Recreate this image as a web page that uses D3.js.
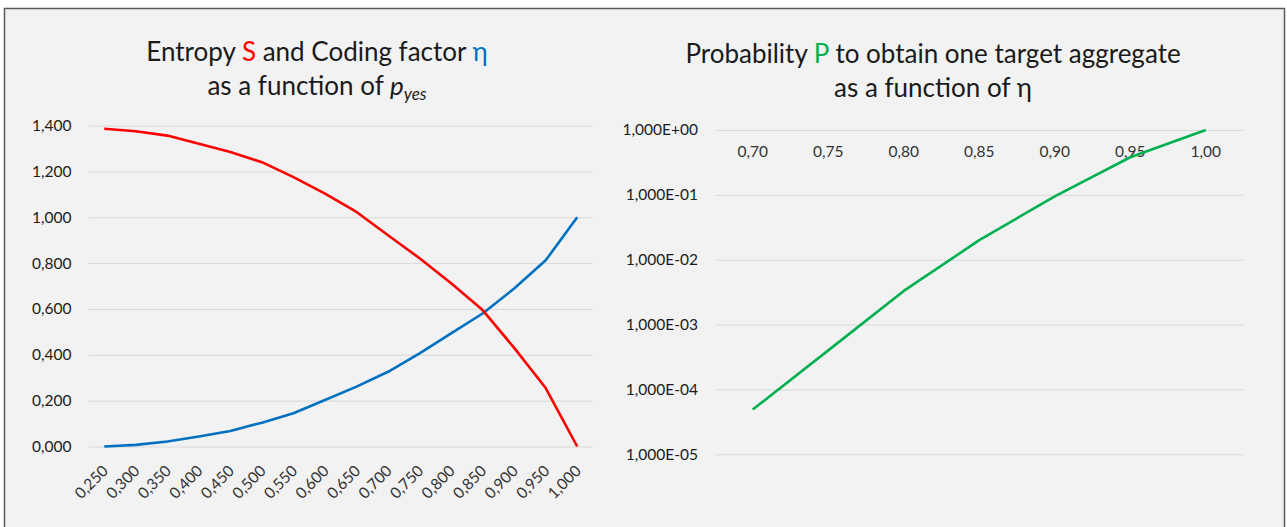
<!DOCTYPE html>
<html>
<head>
<meta charset="utf-8">
<script src="https://cdn.jsdelivr.net/npm/d3@7"></script>
<style>
  body { margin: 0; background: #ffffff; }
  svg text { font-family: Lato, "Open Sans", sans-serif; }
</style>
</head>
<body>
<div id="chart-container"></div>
<script>
const width = 1287;
const height = 527;

// left chart data: entropy S and coding factor eta against p_yes
const pYes = ["0,250", "0,300", "0,350", "0,400", "0,450", "0,500", "0,550", "0,600",
              "0,650", "0,700", "0,750", "0,800", "0,850", "0,900", "0,950", "1,000"];
const entropyS = [1.386, 1.375, 1.356, 1.320, 1.284, 1.240, 1.175, 1.103,
                  1.023, 0.921, 0.821, 0.712, 0.595, 0.430, 0.255, 0.000];
const codingEta = [0.000, 0.007, 0.022, 0.044, 0.068, 0.104, 0.145, 0.203,
                   0.261, 0.326, 0.406, 0.493, 0.580, 0.689, 0.812, 1.000];
const leftTicks = [0, 0.2, 0.4, 0.6, 0.8, 1.0, 1.2, 1.4];

// right chart data: probability P against eta
const etaLabels = ["0,70", "0,75", "0,80", "0,85", "0,90", "0,95", "1,00"];
const probP = [4.9e-5, 4.0e-4, 3.3e-3, 2.0e-2, 9.5e-2, 3.8e-1, 1.0];
const rightTicks = [1, 1e-1, 1e-2, 1e-3, 1e-4, 1e-5];

const tickFont = "15.5px";
const titleFont = "26px";

const svg = d3.select("#chart-container")
    .append("svg")
    .attr("width", width)
    .attr("height", height);

// chart area frame
svg.append("rect")
    .attr("x", 4.5).attr("y", 8.5)
    .attr("width", 1280).attr("height", 540)
    .attr("fill", "#f2f2f2")
    .attr("stroke", "#595959")
    .attr("stroke-width", 1.5);

// ---------- left chart ----------
const xL = d3.scaleBand().domain(pYes).range([88.5, 593]);
const yL = d3.scaleLinear().domain([0, 1.4]).range([446.5, 125.5]);
const cxL = d => xL(d) + xL.bandwidth() / 2;

const gyL = svg.append("g")
    .attr("transform", "translate(88.5,0)")
    .call(d3.axisLeft(yL).tickValues(leftTicks)
        .tickSize(-(593 - 88.5)).tickPadding(17)
        .tickFormat(d => d3.format(".3f")(d).replace(".", ",")));
gyL.select(".domain").remove();
gyL.selectAll(".tick line").attr("stroke", "#d9d9d9");
gyL.selectAll(".tick text").attr("fill", "#1a1a1a").style("font-size", tickFont);

svg.append("g").selectAll("text")
    .data(pYes)
    .join("text")
    .attr("transform", d => `translate(${cxL(d) + 1},${468}) rotate(-45)`)
    .attr("text-anchor", "end")
    .attr("dy", "0.35em")
    .attr("fill", "#333333")
    .style("font-size", tickFont)
    .text(d => d);

const lineL = d3.line().x(d => cxL(d[0])).y(d => yL(d[1]));
svg.append("path")
    .datum(pYes.map((p, i) => [p, codingEta[i]]))
    .attr("d", lineL).attr("fill", "none")
    .attr("stroke", "#0070c0").attr("stroke-width", 2.6).attr("stroke-linejoin", "round");
svg.append("path")
    .datum(pYes.map((p, i) => [p, entropyS[i]]))
    .attr("d", lineL).attr("fill", "none")
    .attr("stroke", "#ff0000").attr("stroke-width", 2.6).attr("stroke-linejoin", "round");

const tL1 = svg.append("text").attr("x", 317).attr("y", 61)
    .attr("text-anchor", "middle").attr("fill", "#1a1a1a").style("font-size", titleFont);
tL1.append("tspan").text("Entropy ");
tL1.append("tspan").attr("fill", "#ff0000").text("S");
tL1.append("tspan").text(" and Coding factor ");
tL1.append("tspan").attr("fill", "#0070c0").text("η");

const tL2 = svg.append("text").attr("x", 317).attr("y", 95)
    .attr("text-anchor", "middle").attr("fill", "#1a1a1a").style("font-size", titleFont);
tL2.append("tspan").text("as a function of ");
tL2.append("tspan").style("font-style", "italic").text("p");
tL2.append("tspan").style("font-style", "italic").style("font-size", "17px")
    .attr("dy", 5).text("yes");

// ---------- right chart ----------
const xR = d3.scaleBand().domain(etaLabels).range([715, 1243.5]);
const yR = d3.scaleLog().domain([1e-5, 1]).range([454.3, 130]);
const cxR = d => xR(d) + xR.bandwidth() / 2;

const gyR = svg.append("g")
    .attr("transform", "translate(715,0)")
    .call(d3.axisLeft(yR).tickValues(rightTicks)
        .tickSize(-(1243.5 - 715)).tickPadding(17)
        .tickFormat(d => {
            const e = Math.round(Math.log10(d));
            return "1,000E" + (e < 0 ? "-" : "+") + String(Math.abs(e)).padStart(2, "0");
        }));
gyR.select(".domain").remove();
gyR.selectAll(".tick line").attr("stroke", "#d9d9d9");
gyR.selectAll(".tick text").attr("fill", "#1a1a1a").style("font-size", tickFont);

svg.append("g").selectAll("text")
    .data(etaLabels)
    .join("text")
    .attr("x", d => cxR(d))
    .attr("y", 152)
    .attr("dy", "0.35em")
    .attr("text-anchor", "middle")
    .attr("fill", "#333333")
    .style("font-size", tickFont)
    .text(d => d);

svg.append("path")
    .datum(etaLabels.map((e, i) => [e, probP[i]]))
    .attr("d", d3.line().x(d => cxR(d[0])).y(d => yR(d[1])))
    .attr("fill", "none")
    .attr("stroke", "#00b050").attr("stroke-width", 2.6).attr("stroke-linejoin", "round");

const tR1 = svg.append("text").attr("x", 933).attr("y", 63)
    .attr("text-anchor", "middle").attr("fill", "#1a1a1a").style("font-size", titleFont);
tR1.append("tspan").text("Probability ");
tR1.append("tspan").attr("fill", "#00b050").text("P");
tR1.append("tspan").text(" to obtain one target aggregate");

svg.append("text").attr("x", 933).attr("y", 97)
    .attr("text-anchor", "middle").attr("fill", "#1a1a1a").style("font-size", titleFont)
    .text("as a function of η");
</script>
</body>
</html>
